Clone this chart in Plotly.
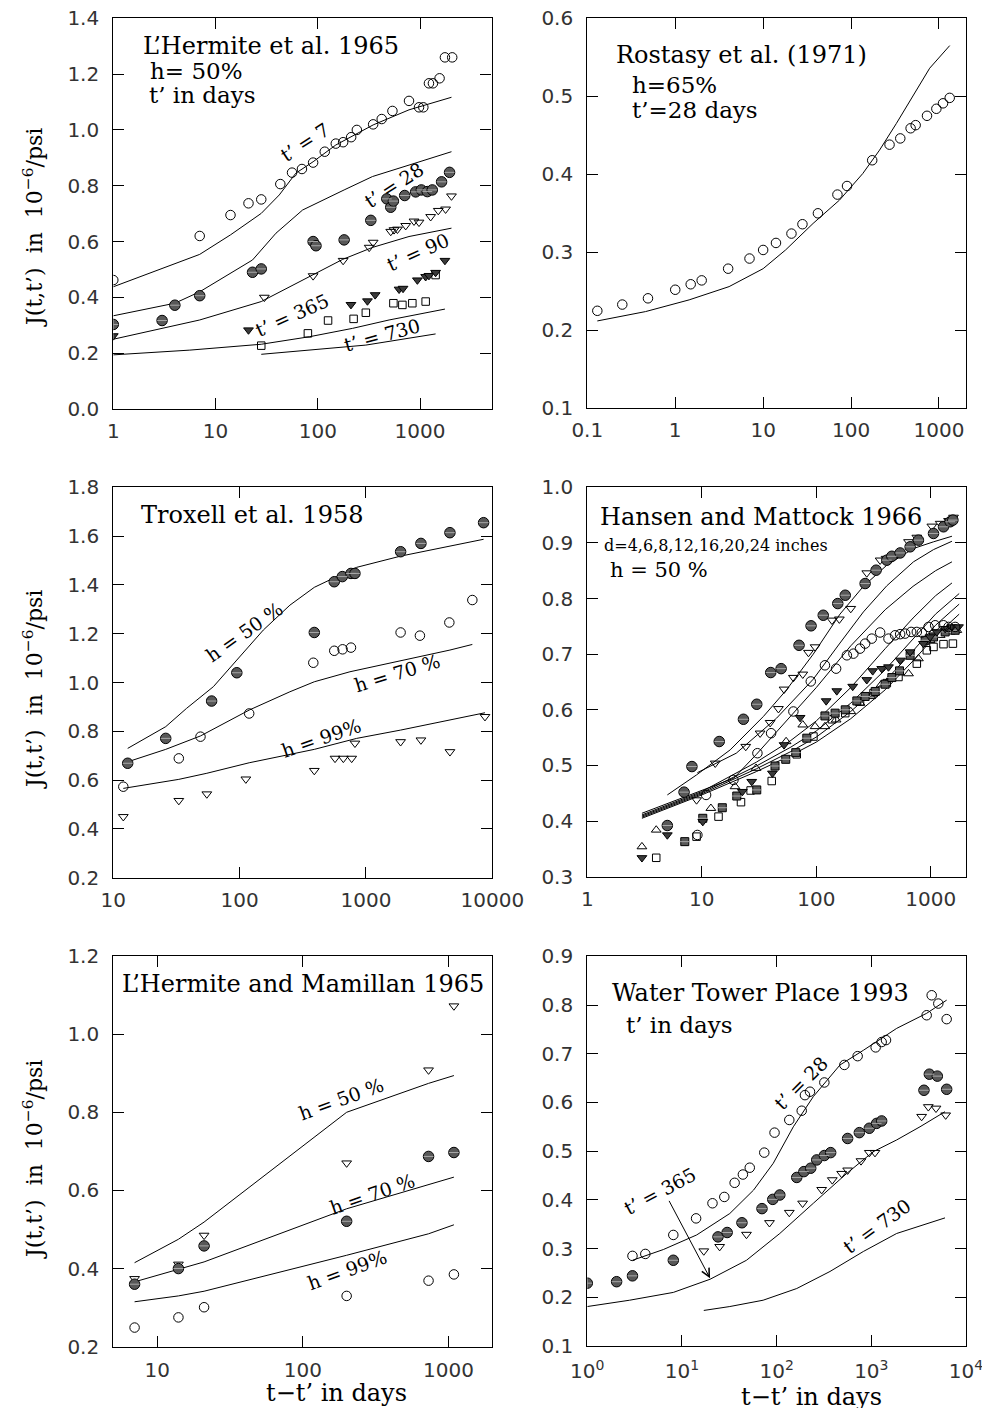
import math
import plotly.graph_objects as go

# page is photographed with the browser's 8px body margin, so the figure is
# sized to fit inside the 990x1416 window and positions are shifted by OFF.
OFF = 8
W, H = 990 - 2 * OFF, 1416 - 2 * OFF
SERIF = "DejaVu Serif"
SANS = "DejaVu Sans"

# ---------------- Panel 1: L'Hermite et al. 1965 ----------------
tl_t7_x = [1, 7, 14, 21, 28, 43, 56, 70, 90, 117, 150, 177, 212, 241, 348, 422, 537, 780, 977, 1077, 1222, 1337, 1553, 1752, 2064]
tl_t7_y = [0.462, 0.620, 0.695, 0.737, 0.751, 0.806, 0.847, 0.860, 0.883, 0.922, 0.951, 0.956, 0.974, 1.000, 1.020, 1.039, 1.068, 1.104, 1.081, 1.081, 1.167, 1.167, 1.185, 1.260, 1.260]
tl_t28_x = [1, 3, 4, 7, 23, 28, 90, 96, 181, 330, 473, 517, 549, 708, 906, 1030, 1178, 1318, 1624, 1944]
tl_t28_y = [0.303, 0.317, 0.372, 0.406, 0.490, 0.502, 0.600, 0.585, 0.606, 0.676, 0.753, 0.723, 0.745, 0.765, 0.778, 0.785, 0.779, 0.785, 0.814, 0.848]
tl_t90_x = [30, 90, 177, 318, 348, 517, 557, 601, 724, 873, 977, 1270, 1508, 1778, 2030]
tl_t90_y = [0.400, 0.477, 0.532, 0.579, 0.597, 0.636, 0.642, 0.644, 0.657, 0.673, 0.669, 0.689, 0.711, 0.716, 0.763]
tl_t365_x = [1, 21, 211, 306, 364, 624, 682, 942, 1135, 1222, 1420, 1752]
tl_t365_y = [0.262, 0.283, 0.374, 0.387, 0.409, 0.429, 0.432, 0.462, 0.474, 0.478, 0.489, 0.532]
tl_t730_x = [28, 80, 126, 224, 295, 549, 672, 841, 1135, 1420]
tl_t730_y = [0.227, 0.271, 0.317, 0.323, 0.345, 0.379, 0.373, 0.379, 0.385, 0.480]

tl_c7_x = [1, 7, 14, 28, 42, 61, 90, 150, 348, 780, 2030]
tl_c7_y = [0.438, 0.554, 0.624, 0.701, 0.767, 0.845, 0.886, 0.946, 1.018, 1.072, 1.117]
tl_c28_x = [1, 4, 7, 23, 39, 71, 181, 343, 780, 2030]
tl_c28_y = [0.334, 0.379, 0.420, 0.534, 0.630, 0.713, 0.785, 0.833, 0.874, 0.922]
tl_c90_x = [1, 7, 28, 53, 90, 175, 343, 780, 2030]
tl_c90_y = [0.250, 0.319, 0.385, 0.438, 0.480, 0.536, 0.579, 0.618, 0.648]
tl_c365_x = [1, 5.6, 28, 83, 219, 498, 1752]
tl_c365_y = [0.194, 0.211, 0.232, 0.259, 0.289, 0.319, 0.358]
tl_c730_x = [28, 111, 295, 1420]
tl_c730_y = [0.196, 0.214, 0.229, 0.269]

# ---------------- Panel 2: Rostasy et al. 1971 ----------------
tr_x = [0.13, 0.25, 0.49, 1.0, 1.5, 2.0, 4.0, 7.0, 10, 14, 21, 28, 42, 70, 90, 174, 274, 363, 476, 543, 731, 934, 1112, 1325]
tr_y = [0.225, 0.233, 0.241, 0.252, 0.259, 0.264, 0.279, 0.292, 0.303, 0.312, 0.324, 0.336, 0.350, 0.374, 0.385, 0.418, 0.438, 0.446, 0.459, 0.463, 0.475, 0.484, 0.491, 0.498]
tr_cx = [0.13, 0.46, 1.44, 4.1, 10, 18, 37, 74, 136, 211, 327, 506, 784, 1325]
tr_cy = [0.212, 0.224, 0.239, 0.256, 0.279, 0.303, 0.337, 0.367, 0.401, 0.431, 0.465, 0.500, 0.536, 0.565]

# ---------------- Panel 3: Troxell et al. 1958 ----------------
ml_h50_x = [13, 26, 60, 95, 390, 561, 650, 761, 818, 1880, 2723, 4620, 8530]
ml_h50_y = [0.669, 0.771, 0.924, 1.040, 1.205, 1.413, 1.434, 1.447, 1.447, 1.536, 1.570, 1.614, 1.655]
ml_h70_x = [12, 33, 49, 119, 383, 561, 653, 761, 1880, 2673, 4570, 6950]
ml_h70_y = [0.573, 0.689, 0.778, 0.873, 1.081, 1.130, 1.136, 1.143, 1.205, 1.192, 1.246, 1.338]
ml_h99_x = [12, 33, 55, 112, 390, 569, 662, 771, 818, 1880, 2723, 4620, 8750]
ml_h99_y = [0.450, 0.516, 0.543, 0.604, 0.639, 0.689, 0.689, 0.689, 0.751, 0.757, 0.764, 0.716, 0.860]
ml_c50_x = [13, 26, 38, 62, 95, 154, 250, 390, 587, 844, 1880, 4620, 8530]
ml_c50_y = [0.730, 0.819, 0.894, 0.983, 1.092, 1.215, 1.317, 1.390, 1.434, 1.472, 1.518, 1.559, 1.587]
ml_c70_x = [12, 26, 49, 119, 250, 390, 747, 1880, 4620, 6950]
ml_c70_y = [0.669, 0.726, 0.781, 0.887, 0.962, 1.003, 1.044, 1.088, 1.133, 1.156]
ml_c99_x = [12, 33, 55, 119, 390, 844, 1880, 4620, 8750]
ml_c99_y = [0.566, 0.603, 0.628, 0.671, 0.726, 0.771, 0.805, 0.846, 0.876]

# ---------------- Panel 4: Hansen and Mattock 1966 ----------------
mr_fc_x = [5.0, 7.0, 8.2, 14.2, 23.1, 30.2, 40, 49.3, 70.7, 90, 115, 154, 179, 267, 333, 413, 457, 540, 660, 780, 1056, 1291, 1477, 1560]
mr_fc_y = [0.392, 0.452, 0.498, 0.543, 0.583, 0.610, 0.667, 0.674, 0.716, 0.751, 0.770, 0.791, 0.806, 0.827, 0.851, 0.869, 0.876, 0.882, 0.893, 0.905, 0.917, 0.929, 0.938, 0.941]
mr_td_x = [9.0, 13.1, 24.2, 32.3, 39.5, 46.7, 52.3, 63.1, 76.2, 85.4, 97.6, 137, 159, 200, 276, 361, 407, 639, 755, 1021, 1207, 1429, 1580]
mr_td_y = [0.438, 0.504, 0.534, 0.558, 0.577, 0.602, 0.637, 0.658, 0.664, 0.703, 0.713, 0.761, 0.763, 0.782, 0.846, 0.869, 0.872, 0.902, 0.910, 0.930, 0.935, 0.940, 0.946]
mr_oc_x = [9.15, 10.9, 18.9, 30.6, 40.3, 63.1, 89.5, 119, 149, 185, 211, 241, 267, 305, 361, 427, 488, 540, 597, 674, 755, 835, 955, 1092, 1291, 1429, 1633]
mr_oc_y = [0.375, 0.447, 0.474, 0.522, 0.558, 0.597, 0.651, 0.680, 0.674, 0.698, 0.701, 0.710, 0.719, 0.728, 0.739, 0.728, 0.734, 0.736, 0.737, 0.740, 0.740, 0.739, 0.749, 0.752, 0.752, 0.749, 0.749]
mr_ftd_x = [3.0, 5.0, 10.2, 22.6, 27.3, 41.4, 52.3, 72.2, 122, 151, 208, 276, 311, 373, 427, 540, 660, 863, 986, 1129, 1335, 1527, 1746]
mr_ftd_y = [0.334, 0.375, 0.399, 0.453, 0.471, 0.486, 0.537, 0.586, 0.616, 0.634, 0.642, 0.654, 0.670, 0.674, 0.677, 0.689, 0.704, 0.719, 0.731, 0.740, 0.746, 0.749, 0.749]
mr_fs_x = [7.1, 10.2, 15.1, 20.2, 30.2, 43.6, 54.1, 66.2, 82.6, 119, 146, 179, 226, 267, 327, 399, 457, 533, 660, 893, 1056, 1335, 1633]
mr_fs_y = [0.363, 0.405, 0.424, 0.445, 0.456, 0.499, 0.511, 0.523, 0.549, 0.589, 0.594, 0.600, 0.616, 0.624, 0.633, 0.646, 0.658, 0.670, 0.698, 0.725, 0.731, 0.740, 0.743]
mr_tu_x = [3.0, 4.0, 12.0, 19.5, 29.8, 54.5, 76.2, 97.6, 119, 149, 200, 241, 299, 368, 442, 533, 639, 780, 986, 1207, 1477, 1688]
mr_tu_y = [0.354, 0.384, 0.423, 0.462, 0.495, 0.543, 0.573, 0.570, 0.570, 0.582, 0.597, 0.612, 0.624, 0.645, 0.657, 0.667, 0.665, 0.692, 0.725, 0.734, 0.740, 0.743]
mr_os_x = [4.0, 9.0, 14.0, 22.0, 26.7, 40.8, 67.5, 94.4, 137, 179, 241, 316, 413, 522, 755, 923, 1056, 1291, 1560]
mr_os_y = [0.334, 0.372, 0.408, 0.434, 0.455, 0.472, 0.520, 0.552, 0.583, 0.594, 0.615, 0.630, 0.648, 0.659, 0.683, 0.707, 0.713, 0.718, 0.719]

mr_c1_x = [5, 9, 17.7, 34.5, 55, 94, 161, 258, 413, 706, 1056, 1530]
mr_c1_y = [0.447, 0.483, 0.528, 0.588, 0.636, 0.700, 0.772, 0.822, 0.860, 0.890, 0.902, 0.912]
mr_c2_x = [9.15, 20, 45, 94, 161, 258, 413, 706, 1056, 1530]
mr_c2_y = [0.487, 0.522, 0.585, 0.655, 0.720, 0.776, 0.823, 0.866, 0.888, 0.903]
mr_c3_x = [3, 10, 19, 30, 60, 100, 200, 400, 700, 1100, 1530]
mr_c3_y = [0.414, 0.455, 0.477, 0.520, 0.588, 0.640, 0.715, 0.780, 0.822, 0.850, 0.866]
mr_c4_x = [3, 10, 30, 60, 100, 200, 400, 700, 1100, 1530]
mr_c4_y = [0.411, 0.453, 0.506, 0.545, 0.580, 0.640, 0.710, 0.765, 0.805, 0.828]
mr_c5_x = [3, 10, 30, 60, 100, 200, 400, 700, 1100, 1770]
mr_c5_y = [0.409, 0.451, 0.499, 0.533, 0.562, 0.612, 0.672, 0.728, 0.772, 0.809]
mr_c6_x = [3, 10, 30, 60, 100, 200, 400, 700, 1100, 1770]
mr_c6_y = [0.407, 0.449, 0.494, 0.525, 0.551, 0.597, 0.652, 0.706, 0.752, 0.790]
mr_c7_x = [3, 10, 30, 60, 100, 200, 400, 700, 1100, 1770]
mr_c7_y = [0.405, 0.447, 0.489, 0.518, 0.542, 0.584, 0.636, 0.688, 0.733, 0.772]

# ---------------- Panel 5: L'Hermite and Mamillan 1965 ----------------
bl_x = [7, 14, 21, 200, 730, 1090]
bl_h50 = [0.374, 0.411, 0.485, 0.670, 0.908, 1.072]
bl_h70 = [0.360, 0.400, 0.458, 0.521, 0.687, 0.697]
bl_h99 = [0.249, 0.275, 0.301, 0.330, 0.369, 0.385]
bl_c50 = [0.415, 0.475, 0.519, 0.800, 0.874, 0.894]
bl_c70 = [0.366, 0.397, 0.417, 0.553, 0.614, 0.634]
bl_c99 = [0.315, 0.330, 0.342, 0.434, 0.489, 0.512]

# ---------------- Panel 6: Water Tower Place 1993 ----------------
br_oc_x = [3, 4.1, 8.1, 14.1, 21, 28, 36, 44, 52, 74, 95, 136, 184, 199, 225, 319, 519, 717, 1111, 1286, 1429, 3843, 4340, 5100, 6250]
br_oc_y = [0.285, 0.289, 0.328, 0.362, 0.393, 0.406, 0.435, 0.452, 0.466, 0.497, 0.538, 0.564, 0.583, 0.615, 0.622, 0.641, 0.677, 0.695, 0.713, 0.724, 0.728, 0.779, 0.820, 0.803, 0.771]
br_fc_x = [1, 2.04, 3, 8.1, 24, 30, 43, 70, 91, 108, 163, 194, 229, 265, 319, 372, 562, 747, 952, 1138, 1286, 3597, 4100, 4980, 6250]
br_fc_y = [0.229, 0.232, 0.244, 0.276, 0.324, 0.333, 0.353, 0.382, 0.401, 0.410, 0.446, 0.458, 0.465, 0.482, 0.491, 0.497, 0.526, 0.538, 0.547, 0.557, 0.562, 0.625, 0.658, 0.654, 0.627]
br_td_x = [17, 25, 48, 84, 136, 188, 299, 387, 486, 562, 778, 952, 1093, 3400, 4000, 4820, 6100]
br_td_y = [0.295, 0.304, 0.329, 0.353, 0.374, 0.393, 0.421, 0.441, 0.454, 0.461, 0.480, 0.497, 0.497, 0.571, 0.591, 0.588, 0.574]
br_c28_x = [3, 6.35, 14.3, 32, 57, 92, 150, 244, 467, 823, 1852, 3843, 6250]
br_c28_y = [0.276, 0.298, 0.328, 0.372, 0.420, 0.475, 0.550, 0.612, 0.677, 0.707, 0.752, 0.783, 0.810]
br_c365_x = [1, 2.8, 8.1, 19.8, 48, 108, 244, 548, 1050, 1852, 3266, 6000]
br_c365_y = [0.181, 0.194, 0.210, 0.237, 0.276, 0.331, 0.393, 0.454, 0.499, 0.523, 0.550, 0.581]
br_c730_x = [17, 32, 72, 163, 366, 823, 1852, 6000]
br_c730_y = [0.173, 0.181, 0.194, 0.218, 0.253, 0.294, 0.331, 0.363]

# ---------------- figure ----------------
fig = go.Figure()

STY = {
    "oc": dict(symbol="circle-open", size=9.5, color="black", line=dict(width=1, color="black")),
    "fc": dict(symbol="circle", size=10.5, color="#585858", line=dict(width=1, color="black")),
    "td": dict(symbol="triangle-down-open", size=8.5, color="black", line=dict(width=1, color="black")),
    "ftd": dict(symbol="triangle-down", size=8.5, color="#3a3a3a", line=dict(width=1, color="black")),
    "os": dict(symbol="square-open", size=7.5, color="black", line=dict(width=1, color="black")),
    "fs": dict(symbol="square", size=8, color="#585858", line=dict(width=1, color="black")),
    "tu": dict(symbol="triangle-up-open", size=8.5, color="black", line=dict(width=1, color="black")),
}
STRIPE = dict(symbol="line-ew", size=7, line=dict(width=1, color="#a8a8a8"))


def pts(k, x, y, style):
    ax = "" if k == 1 else str(k)
    fig.add_trace(go.Scatter(x=x, y=y, mode="markers", marker=STY[style],
                             xaxis="x" + ax, yaxis="y" + ax, showlegend=False, hoverinfo="skip"))
    if style in ("fc", "fs"):
        # light horizontal stripe of the hatched symbols
        fig.add_trace(go.Scatter(x=x, y=y, mode="markers", marker=STRIPE,
                                 xaxis="x" + ax, yaxis="y" + ax, showlegend=False, hoverinfo="skip"))


def crv(k, x, y):
    ax = "" if k == 1 else str(k)
    fig.add_trace(go.Scatter(x=x, y=y, mode="lines", line=dict(color="black", width=1),
                             xaxis="x" + ax, yaxis="y" + ax, showlegend=False, hoverinfo="skip"))


# panel 1
for cx, cy in [(tl_c7_x, tl_c7_y), (tl_c28_x, tl_c28_y), (tl_c90_x, tl_c90_y),
               (tl_c365_x, tl_c365_y), (tl_c730_x, tl_c730_y)]:
    crv(1, cx, cy)
pts(1, tl_t7_x, tl_t7_y, "oc")
pts(1, tl_t28_x, tl_t28_y, "fc")
pts(1, tl_t90_x, tl_t90_y, "td")
pts(1, tl_t730_x, tl_t730_y, "os")
pts(1, tl_t365_x, tl_t365_y, "ftd")
# panel 2
crv(2, tr_cx, tr_cy)
pts(2, tr_x, tr_y, "oc")
# panel 3
for cx, cy in [(ml_c50_x, ml_c50_y), (ml_c70_x, ml_c70_y), (ml_c99_x, ml_c99_y)]:
    crv(3, cx, cy)
pts(3, ml_h50_x, ml_h50_y, "fc")
pts(3, ml_h70_x, ml_h70_y, "oc")
pts(3, ml_h99_x, ml_h99_y, "td")
# panel 4
for cx, cy in [(mr_c1_x, mr_c1_y), (mr_c2_x, mr_c2_y), (mr_c3_x, mr_c3_y), (mr_c4_x, mr_c4_y),
               (mr_c5_x, mr_c5_y), (mr_c6_x, mr_c6_y), (mr_c7_x, mr_c7_y)]:
    crv(4, cx, cy)
pts(4, mr_os_x, mr_os_y, "os")
pts(4, mr_tu_x, mr_tu_y, "tu")
pts(4, mr_fs_x, mr_fs_y, "fs")
pts(4, mr_ftd_x, mr_ftd_y, "ftd")
pts(4, mr_oc_x, mr_oc_y, "oc")
pts(4, mr_td_x, mr_td_y, "td")
pts(4, mr_fc_x, mr_fc_y, "fc")
# panel 5
for cy in [bl_c50, bl_c70, bl_c99]:
    crv(5, bl_x, cy)
pts(5, bl_x, bl_h99, "oc")
pts(5, bl_x, bl_h50, "td")
pts(5, bl_x, bl_h70, "fc")
# panel 6
for cx, cy in [(br_c28_x, br_c28_y), (br_c365_x, br_c365_y), (br_c730_x, br_c730_y)]:
    crv(6, cx, cy)
pts(6, br_oc_x, br_oc_y, "oc")
pts(6, br_td_x, br_td_y, "td")
pts(6, br_fc_x, br_fc_y, "fc")


def fx(px):
    return (px - OFF) / W


def fy(py):
    return 1 - (py - OFF) / H


TICKFONT = dict(family=SANS, size=20, color="#333333")

panels = {
    1: dict(xd=(113.3, 491.5), yd=(18.3, 409), xr=(1, 5000), yr=(0, 1.4), dt=0.2, xs=4,
            tv=[1, 10, 100, 1000], tt=["1", "10", "100", "1000"]),
    2: dict(xd=(587.3, 966), yd=(18.3, 408.3), xr=(0.1, 2030), yr=(0.1, 0.6), dt=0.1, xs=4,
            tv=[0.1, 1, 10, 100, 1000], tt=["0.1", "1", "10", "100", "1000"]),
    3: dict(xd=(113.3, 492.3), yd=(487.3, 877.7), xr=(10, 10000), yr=(0.2, 1.8), dt=0.2, xs=4,
            tv=[10, 100, 1000, 10000], tt=["10", "100", "1000", "10000"]),
    4: dict(xd=(587.3, 966), yd=(487.3, 876.7), xr=(1, 2030), yr=(0.3, 1.0), dt=0.1, xs=4,
            tv=[1, 10, 100, 1000], tt=["1", "10", "100", "1000"]),
    5: dict(xd=(113.3, 492.3), yd=(956, 1346.7), xr=(5, 2000), yr=(0.2, 1.2), dt=0.2, xs=5,
            tv=[10, 100, 1000], tt=["10", "100", "1000"]),
    6: dict(xd=(587.3, 966), yd=(956.3, 1346), xr=(1, 10000), yr=(0.1, 0.9), dt=0.1, xs=7,
            tv=[1, 10, 100, 1000, 10000],
            tt=["10<sup>0</sup>", "10<sup>1</sup>", "10<sup>2</sup>", "10<sup>3</sup>", "10<sup>4</sup>"]),
}

layout_axes = {}
for k, p in panels.items():
    sfx = "" if k == 1 else str(k)
    layout_axes["xaxis" + sfx] = dict(
        type="log", domain=[fx(p["xd"][0]), fx(p["xd"][1])],
        range=[math.log10(p["xr"][0]), math.log10(p["xr"][1])],
        anchor="y" + sfx, tickvals=p["tv"], ticktext=p["tt"], automargin=False,
        ticks="inside", ticklen=11, tickwidth=1, tickcolor="black",
        showline=True, linecolor="black", linewidth=1.2, mirror="ticks",
        showgrid=False, zeroline=False, tickfont=TICKFONT,
        ticklabelstandoff=p["xs"], ticklabeloverflow="allow")
    layout_axes["yaxis" + sfx] = dict(
        domain=[fy(p["yd"][1]), fy(p["yd"][0])], range=list(p["yr"]),
        anchor="x" + sfx, tick0=0, dtick=p["dt"], tickformat=".1f", automargin=False,
        ticks="inside", ticklen=11, tickwidth=1, tickcolor="black",
        showline=True, linecolor="black", linewidth=1.2, mirror="ticks",
        showgrid=False, zeroline=False, tickfont=TICKFONT,
        ticklabelstandoff=9, ticklabeloverflow="allow")


def txt(s, px, py, size, angle=0, anchor="left"):
    return dict(text=s, x=fx(px), y=fy(py), xref="paper", yref="paper",
                xanchor=anchor, yanchor="middle", showarrow=False, textangle=angle,
                font=dict(family=SERIF, size=size, color="black"))


ann = []
TS = 24
# panel 1
ann += [txt("L\u2019Hermite et al. 1965", 141, 46, TS),
        txt("h= 50%", 148, 71, 23),
        txt("t\u2019 in days", 147, 95, 23),
        txt("t\u2019 = 7", 305, 142, 19, -33, "center"),
        txt("t\u2019 = 28", 394, 185, 19, -33, "center"),
        txt("t\u2019 = 90", 418, 252, 19, -24, "center"),
        txt("t\u2019 = 365", 292, 315, 19, -24, "center"),
        txt("t\u2019 = 730", 382, 335, 19, -15, "center")]
# panel 2
ann += [txt("Rostasy et al. (1971)", 614, 55, TS),
        txt("h=65%", 630, 85, 23),
        txt("t\u2019=28 days", 630, 110, 23)]
# panel 3
ann += [txt("Troxell et al. 1958", 139, 515, TS),
        txt("h = 50 %", 244, 632, 19, -35, "center"),
        txt("h = 70 %", 397, 673, 19, -17, "center"),
        txt("h = 99%", 321, 738, 19, -19, "center")]
# panel 4
ann += [txt("Hansen and Mattock 1966", 598, 517, TS),
        txt("d=4,6,8,12,16,20,24 inches", 602, 545, 16),
        txt("h = 50 %", 608, 570, 21)]
# panel 5
ann += [txt("L\u2019Hermite and Mamillan 1965", 120, 984, TS),
        txt("h = 50 %", 341, 1099, 19, -20, "center"),
        txt("h = 70 %", 372, 1194, 19, -19, "center"),
        txt("h = 99%", 347, 1270, 19, -20, "center")]
# panel 6
ann += [txt("Water Tower Place 1993", 610, 993, TS),
        txt("t\u2019 in days", 624, 1025, 23),
        txt("t\u2019 = 28", 801, 1083, 19, -45, "center"),
        txt("t\u2019 = 365", 660, 1191, 19, -28, "center"),
        txt("t\u2019 = 730", 877, 1226, 19, -36, "center")]
# arrow in panel 6 (data coordinates, log axis -> log10 values)
ann.append(dict(x=math.log10(19.8), y=0.239, ax=math.log10(7.17), ay=0.401,
                xref="x6", yref="y6", axref="x6", ayref="y6", text="",
                showarrow=True, arrowhead=5, arrowsize=1.6, arrowwidth=1, arrowcolor="black"))
# axis titles
YT = "J(t,t\u2019)  in  10<sup>\u22126</sup>/psi"
for yc in [228, 690, 1160]:
    ann.append(txt(YT, 33, yc, 22, -90, "center"))
ann.append(txt("t\u2212t\u2019 in days", 336, 1393, 24, 0, "center"))
ann.append(txt("t\u2212t\u2019 in days", 811, 1397, 24, 0, "center"))

fig.update_layout(width=W, height=H, margin=dict(l=0, r=0, t=0, b=0, autoexpand=False),
                  paper_bgcolor="white", plot_bgcolor="white",
                  annotations=ann, showlegend=False, **layout_axes)

fig.write_html("out.html")
